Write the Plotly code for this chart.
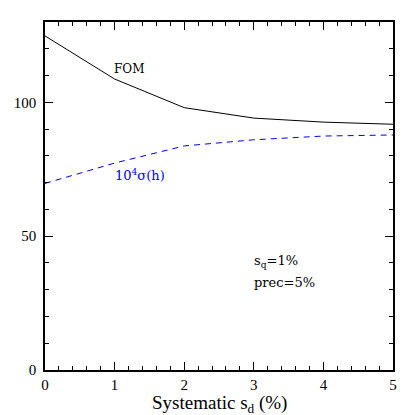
import plotly.graph_objects as go

# Systematic s_d (%)
sd_values = [0, 1, 2, 3, 4, 5]
fom_values = [124.8, 108.7, 98.0, 94.1, 92.6, 91.8]
sigma_h_values = [69.7, 77.3, 83.7, 86.0, 87.4, 87.8]

x_tick_vals = [0, 1, 2, 3, 4, 5]
y_tick_vals = [0, 50, 100]

FONT = "Liberation Serif"
ANNOT_FONT = "DejaVu Serif"

fig = go.Figure()
fig.add_trace(go.Scatter(x=sd_values, y=fom_values, mode="lines",
                         line=dict(color="black", width=1), showlegend=False))
fig.add_trace(go.Scatter(x=sd_values, y=sigma_h_values, mode="lines",
                         line=dict(color="blue", width=1, dash="6px,5px"), showlegend=False))

axis_common = dict(
    showline=True, linecolor="black", linewidth=1.5, mirror="allticks",
    ticks="inside", ticklen=8, tickwidth=1, tickcolor="black",
    showgrid=False, zeroline=False, automargin=False,
    minor=dict(ticks="inside", ticklen=4, tickwidth=1, tickcolor="black"),
    tickfont=dict(family=FONT, size=15, color="black"),
)

# the page body adds an 8px offset, so margins are shifted to keep the plot box in place
fig.update_layout(
    width=415, height=415, autosize=False,
    margin=dict(l=37, r=30, t=14, b=53),
    paper_bgcolor="white", plot_bgcolor="white",
    xaxis=dict(range=[0, 5], tickvals=x_tick_vals, minor_dtick=0.2, ticklabelstandoff=0,
               **axis_common),
    yaxis=dict(range=[0, 130], tickvals=y_tick_vals, minor_dtick=10, ticklabelstandoff=4,
               **axis_common),
    annotations=[
        # x-axis title as an annotation so its position can be set exactly
        dict(x=0.5, y=0, xref="paper", yref="paper", yanchor="middle", yshift=-34,
             text="Systematic s<sub>d</sub> (%)", showarrow=False,
             font=dict(family=FONT, size=19, color="black")),
        dict(x=1.2, y=112.5, text="FOM", showarrow=False,
             font=dict(family=ANNOT_FONT, size=12, color="black")),
        dict(x=1.37, y=72.8, text="10<sup>4</sup>σ(h)", showarrow=False,
             font=dict(family=ANNOT_FONT, size=13, color="blue")),
        dict(x=2.98, y=40.5, text="s<sub>q</sub>=1%", showarrow=False, xanchor="left",
             font=dict(family=ANNOT_FONT, size=13, color="black")),
        dict(x=2.98, y=32.8, text="prec=5%", showarrow=False, xanchor="left",
             font=dict(family=ANNOT_FONT, size=13, color="black")),
    ],
)

fig.write_html("out.html")
